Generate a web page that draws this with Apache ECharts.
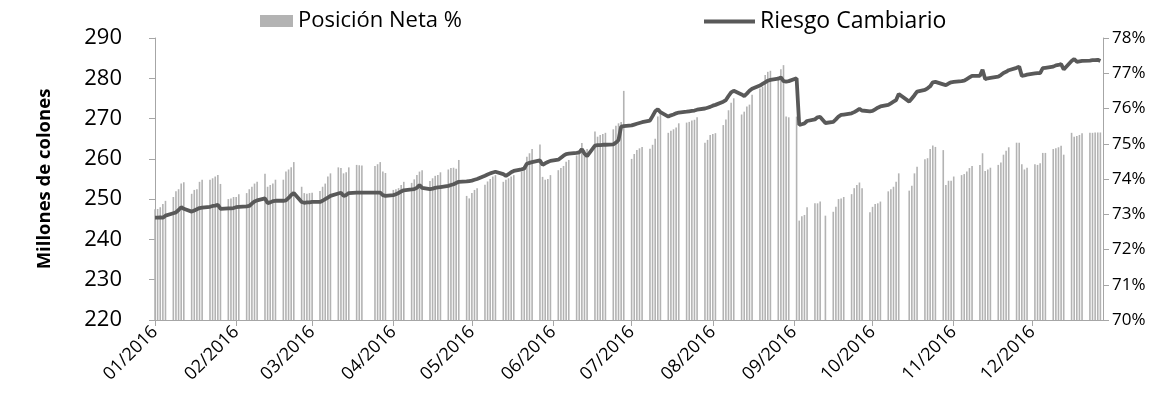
<!DOCTYPE html>
<html>
<head>
<meta charset="utf-8">
<script src="https://cdn.jsdelivr.net/npm/echarts@6/dist/echarts.min.js"></script>
<style>
  html, body { margin: 0; padding: 0; background: #fff; }
  #chart { width: 1160px; height: 400px; }
</style>
</head>
<body>
<div id="chart"></div>
<script>
// axis range (calendar days, Excel date axis starting on first data date)
var firstDay = '2016-01-04';
var lastDay = '2016-12-31';

// one row per week, Mon..Fri (null = holiday)
var posicionNeta = [
  73.14, 73.15, 73.20, 73.29, 73.38,
  73.49, 73.65, 73.71, 73.87, 73.91,
  73.58, 73.69, 73.71, 73.92, 73.98,
  73.98, 74.02, 74.07, 74.11, 73.86,
  73.43, 73.45, 73.49, 73.49, 73.57,
  73.60, 73.71, 73.78, 73.87, 73.92,
  74.15, 73.78, 73.83, 73.87, 73.98,
  73.98, 74.21, 74.27, 74.33, 74.48,
  73.78, 73.60, 73.58, 73.60, 73.61,
  73.66, 73.78, 73.87, 74.07, 74.16,
  74.33, 74.31, 74.16, 74.19, 74.33,
  74.40, 74.39, 74.38, null, null,
  74.37, 74.42, 74.48, 74.21, 74.17,
  73.69, 73.71, 73.74, 73.83, 73.92,
  73.89, 73.99, 74.11, 74.21, 74.25,
  73.94, 74.02, 74.09, 74.11, 74.19,
  74.27, 74.31, 74.32, 74.29, 74.54,
  73.52, 73.45, 73.60, 73.69, 73.74,
  73.84, 73.93, 74.00, 74.07, 74.11,
  73.92, 73.98, 74.02, 74.07, 74.11,
  74.21, 74.37, 74.63, 74.73, 74.85,
  74.98, 74.06, 73.98, 74.00, 74.11,
  74.25, 74.31, 74.37, 74.49, 74.54,
  74.67, 74.73, 75.02, 74.82, 74.85,
  75.35, 75.20, 75.25, 75.28, 75.31,
  75.41, 75.51, 75.58, 75.62, 76.50,
  74.57, 74.71, 74.82, 74.87, 74.91,
  74.86, 74.97, 75.14, 75.77, 75.89,
  75.31, 75.37, 75.41, 75.46, 75.58,
  75.60, 75.62, 75.66, 75.68, 75.75,
  75.03, 75.11, 75.25, 75.28, 75.30,
  75.53, 75.69, 75.95, 76.16, 76.29,
  75.83, 75.91, 76.06, 76.11, 76.39,
  76.57, 76.62, 76.95, 77.04, 77.07,
  76.90, 77.11, 77.23, 75.77, 75.75,
  75.77, 72.82, 72.94, 72.98, 73.20,
  73.31, 73.31, 73.36, null, 72.96,
  73.07, 73.21, 73.43, 73.45, 73.49,
  73.57, 73.74, 73.83, 73.90, 73.74,
  73.06, 73.21, 73.29, 73.31, 73.36,
  73.65, 73.71, 73.78, 73.92, 74.16,
  null, 73.67, 73.81, 74.16, 74.35,
  74.56, 74.59, 74.85, 74.95, 74.91,
  74.82, 73.83, 73.95, 73.95, 74.07,
  74.11, 74.14, 74.21, 74.31, 74.37,
  74.40, 74.73, 74.23, 74.27, 74.32,
  74.40, 74.47, 74.69, 74.80, 74.90,
  75.03, 75.03, 74.42, 74.27, 74.32,
  74.42, 74.40, 74.45, 74.74, 74.74,
  74.85, 74.87, 74.90, 74.94, 74.69,
  75.31, 75.20, 75.22, 75.25, 75.30,
  75.31, 75.31, 75.32, 75.32, 75.32
];

var riesgoCambiario = [
  245.4, 245.4, 245.5, 245.4, 245.9,
  246.5, 246.7, 247.3, 248.0, 247.6,
  246.9, 247.2, 247.5, 247.8, 247.9,
  248.1, 248.3, 248.4, 248.6, 247.6,
  247.7, 247.7, 247.8, 248.0, 248.1,
  248.2, 248.3, 248.9, 249.4, 249.7,
  250.2, 249.0, 249.2, 249.5, 249.6,
  249.6, 249.7, 250.3, 251.0, 251.5,
  249.3, 249.1, 249.2, 249.2, 249.3,
  249.3, 249.6, 250.0, 250.4, 250.8,
  251.4, 251.6, 250.8, 251.0, 251.5,
  251.6, 251.6, 251.6, null, null,
  251.6, 251.6, 251.6, 251.0, 250.8,
  251.0, 251.2, 251.5, 251.9, 252.2,
  252.4, 252.5, 252.8, 253.5, 252.8,
  252.5, 252.6, 252.8, 252.9, 253.0,
  253.3, 253.5, 253.7, 254.0, 254.3,
  254.4, 254.5, 254.6, 254.8, 255.0,
  255.8, 256.1, 256.4, 256.6, 256.8,
  256.2, 255.8, 256.2, 256.7, 257.0,
  257.4, 257.6, 258.8, 259.0, 259.2,
  259.6, 258.5, 258.9, 259.2, 259.5,
  259.8, 260.3, 260.8, 261.2, 261.3,
  261.5, 261.6, 262.4, 261.3, 260.7,
  263.3, 263.4, 263.4, 263.5, 263.5,
  263.6, 264.0, 264.7, 268.0, 268.1,
  268.3, 268.5, 268.7, 268.9, 269.1,
  269.5, 270.6, 271.8, 272.3, 271.6,
  270.5, 270.8, 271.0, 271.3, 271.5,
  271.7, 271.8, 271.9, 272.0, 272.2,
  272.5, 272.7, 272.9, 273.2, 273.4,
  274.2, 274.6, 275.6, 276.5, 276.9,
  276.0, 275.6, 276.2, 276.9, 277.4,
  278.2, 278.6, 279.0, 279.4, 279.6,
  279.9, 280.2, 279.3, 279.2, 279.3,
  280.0, 268.4, 268.6, 268.8, 269.4,
  269.8, 270.3, 270.4, null, 268.9,
  269.2, 269.8, 270.5, 270.9, 271.0,
  271.3, 271.6, 272.0, 272.4, 272.0,
  271.8, 271.9, 272.3, 272.7, 273.0,
  273.4, 273.8, 274.2, 274.6, 276.1,
  null, 274.2, 275.0, 275.8, 276.7,
  277.1, 277.5, 278.0, 279.0, 279.1,
  278.5, 278.3, 278.7, 279.0, 279.1,
  279.3, 279.4, 279.8, 280.2, 280.6,
  280.6, 282.1, 279.8, 280.0, 280.1,
  280.4, 280.8, 281.3, 281.6, 282.0,
  282.6, 282.9, 280.6, 280.7, 280.9,
  281.2, 281.3, 281.3, 282.5, 282.6,
  282.9, 283.2, 283.3, 283.5, 282.2,
  284.3, 284.8, 284.1, 284.2, 284.3,
  284.4, 284.5, 284.5, 284.6, 284.3
];

var fontName = '"Open Sans", "Noto Sans", sans-serif';

// calendar days of the axis, values placed on weekdays only
var days = [];
var barData = [];
var lineData = [];
var d = new Date(firstDay + 'T00:00:00Z');
var end = new Date(lastDay + 'T00:00:00Z');
var k = 0;
while (d <= end) {
  days.push(d.toISOString().slice(0, 10));
  var wd = d.getUTCDay();
  if (wd >= 1 && wd <= 5 && k < posicionNeta.length) {
    barData.push(posicionNeta[k]);
    lineData.push(riesgoCambiario[k]);
    k++;
  } else {
    barData.push(null);
    lineData.push(null);
  }
  d.setUTCDate(d.getUTCDate() + 1);
}

function isTickDay(index, value) {
  return value.slice(8) === '04';
}

var chart = echarts.init(document.getElementById('chart'));

var option = {
  animation: false,
  textStyle: { fontFamily: fontName },
  grid: { left: 155, right: 57, top: 38, bottom: 80, containLabel: false },
  legend: [
    {
      data: ['Posición Neta %'],
      left: 255, top: 5,
      icon: 'rect', itemWidth: 33, itemHeight: 12,
      textStyle: { fontSize: 22, color: '#000', fontFamily: fontName }
    },
    {
      data: ['Riesgo Cambiario'],
      left: 699, top: 5,
      icon: 'rect', itemWidth: 51, itemHeight: 4,
      textStyle: { fontSize: 23, color: '#000', fontFamily: fontName }
    }
  ],
  xAxis: {
    type: 'category',
    data: days,
    boundaryGap: false,
    axisLine: { lineStyle: { color: '#a6a6a6', width: 1 } },
    axisTick: { show: true, interval: isTickDay, length: 6, lineStyle: { color: '#a6a6a6' } },
    axisLabel: {
      interval: isTickDay,
      rotate: 45,
      margin: 9,
      fontSize: 18,
      color: '#000',
      fontFamily: fontName,
      formatter: function (v) { return v.slice(5, 7) + '/' + v.slice(0, 4); }
    },
    splitLine: { show: false }
  },
  yAxis: [
    {
      type: 'value',
      min: 220, max: 290, interval: 10,
      name: 'Millones de colones',
      nameLocation: 'middle',
      nameGap: 101,
      nameTextStyle: { fontSize: 18.5, fontWeight: 'bold', color: '#000', fontFamily: fontName },
      axisLine: { show: true, lineStyle: { color: '#a6a6a6' } },
      axisTick: { show: true, length: 6, lineStyle: { color: '#a6a6a6' } },
      axisLabel: { fontSize: 22, color: '#000', margin: 33, fontFamily: fontName },
      splitLine: { show: false }
    },
    {
      type: 'value',
      min: 70, max: 78, interval: 1,
      position: 'right',
      axisLine: { show: true, lineStyle: { color: '#a6a6a6' } },
      axisTick: { show: true, length: 6, lineStyle: { color: '#a6a6a6' } },
      axisLabel: { fontSize: 17, color: '#000', margin: 9, formatter: '{value}%', fontFamily: fontName },
      splitLine: { show: false }
    }
  ],
  series: [
    {
      name: 'Posición Neta %',
      type: 'bar',
      yAxisIndex: 1,
      data: barData,
      barWidth: 1.6,
      itemStyle: { color: '#b3b3b3' }
    },
    {
      name: 'Riesgo Cambiario',
      type: 'line',
      yAxisIndex: 0,
      data: lineData,
      connectNulls: true,
      showSymbol: false,
      symbol: 'none',
      z: 5,
      lineStyle: { color: '#595959', width: 3.8 },
      itemStyle: { color: '#595959' }
    }
  ]
};

chart.setOption(option);
</script>
</body>
</html>
